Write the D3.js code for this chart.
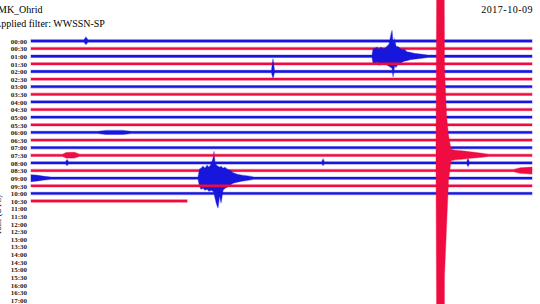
<!DOCTYPE html>
<html>
<head>
<meta charset="utf-8">
<script src="https://cdn.jsdelivr.net/npm/d3@7"></script>
<style>
  body { margin: 0; background: #fff; }
  svg { display: block; }
</style>
</head>
<body>
<div id="helicorder"></div>
<script>
// helicorder page : one trace per half hour, colours alternate

// row labels (UTC start of each 30 min line)
var rowLabels = ["00:00", "00:30", "01:00", "01:30", "02:00", "02:30", "03:00", "03:30",
  "04:00", "04:30", "05:00", "05:30", "06:00", "06:30", "07:00", "07:30",
  "08:00", "08:30", "09:00", "09:30", "10:00", "10:30", "11:00", "11:30",
  "12:00", "12:30", "13:00", "13:30", "14:00", "14:30", "15:00", "15:30",
  "16:00", "16:30", "17:00"]

// minutes recorded on each line (last one is still running)
var rowMinutes = [30, 30, 30, 30, 30, 30, 30, 30, 30, 30, 30,
  30, 30, 30, 30, 30, 30, 30, 30, 30, 30, 9.35]

// background noise level, counts
var noiseLevel = 115

var env_0000 = [[3.17, 115, 115], [3.29, 400, 350], [3.41, 115, 115]]
var env_0100 = [[20.42, 115, 115], [20.48, 700, 700], [20.6, 800, 750], [20.72, 900, 600],
  [20.84, 700, 900], [20.96, 900, 800], [21.08, 750, 700], [21.2, 800, 750],
  [21.32, 1000, 900], [21.44, 1200, 1000], [21.53, 2000, 1100], [21.62, 2600, 1200],
  [21.68, 1300, 2100], [21.77, 1700, 1000], [21.86, 1000, 1100], [21.98, 950, 800],
  [22.1, 800, 850], [22.22, 650, 600], [22.34, 700, 500], [22.51, 450, 450],
  [22.69, 400, 350], [22.93, 300, 300], [23.29, 220, 220], [23.77, 115, 115]]
var env_0200 = [[14.4, 115, 115], [14.49, 1300, 700], [14.58, 115, 115]]
var env_0600 = [[4.0, 115, 115], [4.5, 200, 200], [5.5, 200, 200], [6.0, 115, 115]]
var env_0730 = [[1.9, 115, 115], [2.1, 280, 280], [2.6, 300, 280], [2.9, 115, 115],
  [24.25, 115, 115], [24.31, 25000, 25000], [24.73, 25000, 25000], [24.76, 8800, 12000],
  [24.88, 4000, 7200], [25.0, 2000, 2500], [25.15, 600, 550], [25.4, 500, 450],
  [25.8, 450, 400], [26.3, 350, 300], [26.9, 220, 220], [27.4, 115, 115]]
var env_0800 = [[2.07, 115, 115], [2.16, 350, 250], [2.25, 115, 115],
  [17.41, 115, 115], [17.49, 400, 250], [17.57, 115, 115],
  [26.09, 115, 115], [26.17, 450, 350], [26.25, 115, 115]]
var env_0830 = [[28.9, 115, 115], [29.3, 280, 280], [30, 350, 350]]
var env_0900 = [[0, 350, 350], [0.4, 280, 280], [0.8, 180, 180], [1.2, 115, 115],
  [10.0, 115, 115], [10.09, 900, 800], [10.18, 1000, 1100], [10.3, 1200, 1000],
  [10.42, 1000, 1200], [10.54, 1300, 1100], [10.66, 1100, 1300], [10.78, 1400, 1200],
  [10.9, 2000, 1300], [10.96, 2700, 1500], [11.02, 1500, 2000], [11.11, 1300, 2600],
  [11.2, 1200, 3000], [11.29, 1100, 1800], [11.38, 1200, 2500], [11.5, 1000, 1200],
  [11.62, 1100, 1000], [11.74, 900, 900], [11.92, 800, 700], [12.1, 550, 500],
  [12.34, 400, 400], [12.63, 300, 300], [12.99, 220, 220], [13.35, 115, 115]]

var envelopes = {0: env_0000, 2: env_0100, 4: env_0200, 12: env_0600,
  15: env_0730, 16: env_0800, 17: env_0830, 18: env_0900}

var stationName = "MK_Ohrid",
    filterName = "Applied filter: WWSSN-SP",
    dayLabel = "2017-10-09"

// set the dimensions of the page
var W = 540, H = 304,
    top0 = 41, rowStep = 7.62,
    blue = "#1616dc", red = "#ee0c40"

var svg = d3.select("#helicorder")
  .append("svg")
    .attr("width", W)
    .attr("height", H)

svg.append("rect").attr("width", W).attr("height", H).attr("fill", "#fff")

// scales
var x = d3.scaleLinear().domain([0, 30]).range([31, 532])
var y = d3.scaleLinear().domain([0, rowLabels.length - 1])
  .range([top0, top0 + (rowLabels.length - 1) * rowStep])
var amp = d3.scaleLinear().domain([0, 100]).range([0, 1])

// build the trace envelope for a row
function rowPoints(r) {
  var end = rowMinutes[r]
  var pts = [[0, noiseLevel, noiseLevel]]
  ;(envelopes[r] || []).forEach(function (p) {
    if (p[0] <= end) pts.push(p)
  })
  pts.push([end, noiseLevel, noiseLevel])
  pts.sort(function (a, b) { return a[0] - b[0] })
  return pts
}

var area = function (r) {
  return d3.area()
    .x(function (d) { return x(d[0]) })
    .y0(function (d) { return y(r) + amp(d[2]) })
    .y1(function (d) { return y(r) - amp(d[1]) })
}

// Add traces
var traces = svg.append("g")
  .selectAll("path")
  .data(d3.range(rowMinutes.length))
  .enter()
  .append("path")
    .attr("d", function (r) { return area(r)(rowPoints(r)) })
    .attr("fill", function (r) { return r % 2 ? red : blue })
    .attr("stroke", function (r) { return r % 2 ? red : blue })
    .attr("stroke-width", 1.2)
    .attr("stroke-opacity", 0.35)

// the clipped quake line sits on top
traces.filter(function (r) { return r == 15 }).raise()

// Add time axis on the left
var yAxis = svg.append("g")
  .attr("transform", "translate(27,0)")
  .call(d3.axisLeft(y)
    .tickValues(d3.range(rowLabels.length))
    .tickFormat(function (i) { return rowLabels[i] })
    .tickSize(0)
    .tickPadding(0))
yAxis.select(".domain").remove()
yAxis.selectAll("text")
  .attr("font-family", "Liberation Serif")
  .attr("font-weight", "bold")
  .attr("font-size", 7)
  .attr("fill", "#222")

// axis title, mostly off the page
svg.append("text")
  .attr("transform", "translate(1,215) rotate(-90)")
  .attr("text-anchor", "middle")
  .attr("font-family", "Liberation Serif")
  .attr("font-size", 8)
  .text("Time (UTC)")

// Add titles
svg.append("text")
  .attr("x", -2).attr("y", 13)
  .attr("font-family", "Liberation Serif")
  .attr("font-size", 10)
  .text(stationName)
svg.append("text")
  .attr("x", -6).attr("y", 27)
  .attr("font-family", "Liberation Serif")
  .attr("font-size", 10)
  .text(filterName)
svg.append("text")
  .attr("x", 533).attr("y", 13)
  .attr("text-anchor", "end")
  .attr("font-family", "Liberation Serif")
  .attr("font-size", 10)
  .attr("letter-spacing", 0.5)
  .text(dayLabel)
</script>
</body>
</html>
